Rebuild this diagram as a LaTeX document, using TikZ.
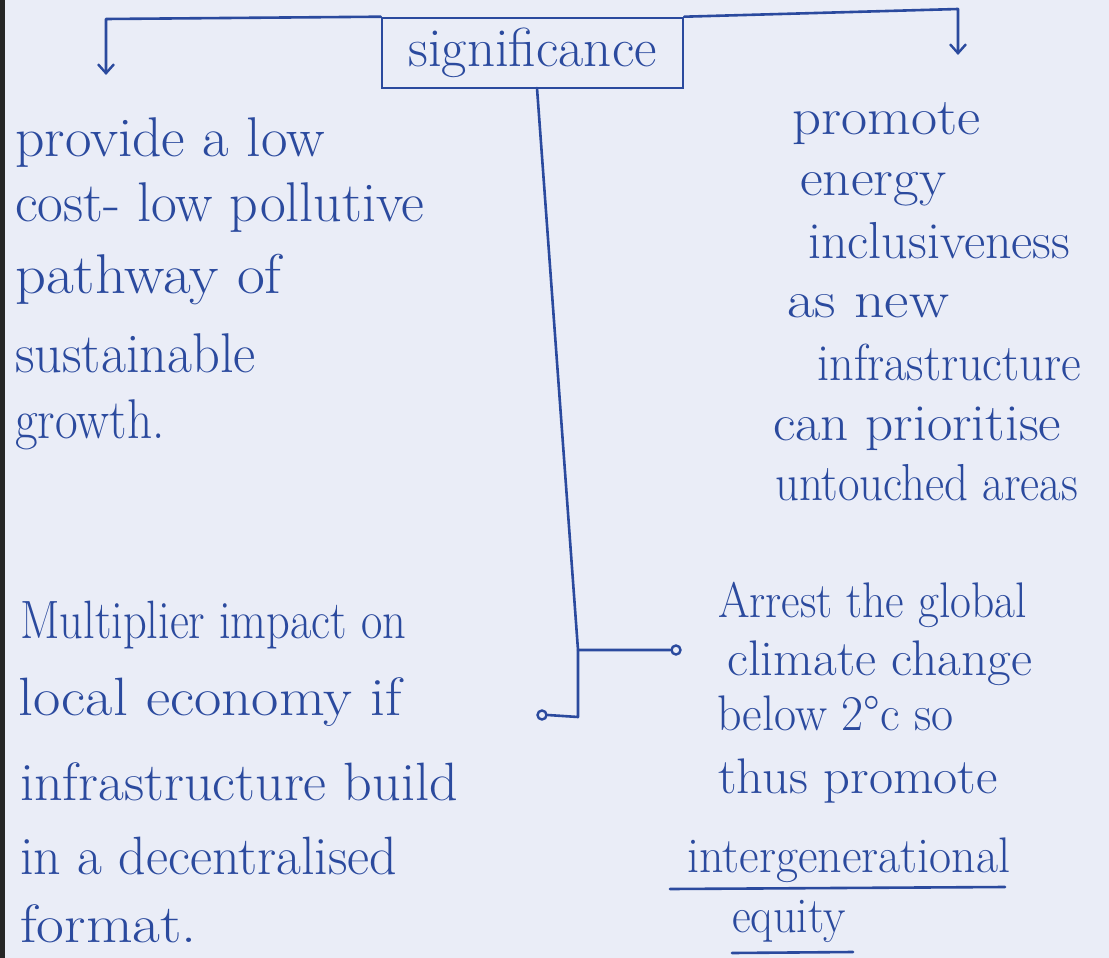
\documentclass[tikz,border=0pt]{standalone}
\usepackage{fontspec}
\usepackage{graphicx}
\usetikzlibrary{arrows.meta}
\definecolor{ink}{HTML}{2B4A9E}
\definecolor{paper}{HTML}{EAEDF7}
\newcommand{\sx}[2]{\scalebox{#1}[1]{#2}}
\begin{document}
\begin{tikzpicture}[x=1pt,y=-1pt,
  inkline/.style={draw=ink,line width=2.6pt,line cap=round,line join=round},
  tip/.style={-{Straight Barb[length=9pt,width=16pt,line width=2.4pt]}},
  hand/.style={anchor=base west,inner sep=0pt,text=ink},
  lt/.style={hand,font=\fontsize{56}{60}\selectfont},
  rt/.style={hand,font=\fontsize{52}{60}\selectfont},
  lb/.style={hand,font=\fontsize{54}{60}\selectfont},
  rb/.style={hand,font=\fontsize{50}{60}\selectfont},
  loopend/.style={draw=ink,line width=2.4pt,circle,minimum size=9pt,inner sep=0pt},
]
\fill[paper] (0,0) rectangle (1109,958);
\useasboundingbox (0,0) rectangle (1109,958);
\fill[black!85] (0,0) rectangle (5,958);

% title box
\node[draw=ink,line width=2.6pt,minimum width=301pt,minimum height=70pt,text=ink,
      font=\fontsize{55}{58}\selectfont,inner sep=0pt] (sig) at (532.5,53) {significance};

% top connectors
\coordinate (tl) at (106,19);
\coordinate (la) at (106,75);
\coordinate (tr) at (958,9);
\coordinate (ra) at (958,55);
\draw[inkline,tip] (sig.north west) -- (tl) -- (la);
\draw[inkline,tip] (sig.north east) -- (tr) -- (ra);

% vertical spine and branches
\coordinate (vtop) at (537,88);
\coordinate (vmid) at (578,650);
\coordinate (vbot) at (578,717);
\node[loopend] (e1) at (676,650) {};
\node[loopend] (e2) at (542,715) {};
\draw[inkline] (vtop) -- (vmid) -- (e1.west);
\draw[inkline] (vmid) -- (vbot) -- (e2.east);

% left top block
\node[lt] (a1) at (15,156) {\sx{1.03}{provide a low}};
\node[lt] (a2) at (15,221) {cost- low pollutive};
\node[lt] (a3) at (15,293) {\sx{1.08}{pathway of}};
\node[lt] (a4) at (15,372) {\sx{0.97}{sustainable}};
\node[lt] (a5) at (15,438) {\sx{0.88}{growth.}};

% right top block
\node[rt] (b1) at (792,135) {\sx{1.09}{promote}};
\node[rt] (b2) at (800,195) {\sx{1.07}{energy}};
\node[rt] (b3) at (808,258) {inclusiveness};
\node[rt] (b4) at (787,317) {\sx{1.15}{as new}};
\node[rt] (b5) at (817,380) {\sx{0.93}{infrastructure}};
\node[rt] (b6) at (773,440) {\sx{1.06}{can prioritise}};
\node[rt] (b7) at (775,500) {\sx{0.9}{untouched areas}};

% left bottom block
\node[lb] (c1) at (20,638) {\sx{0.86}{Multiplier impact on}};
\node[lb] (c2) at (18,715) {\sx{1.1}{local economy if}};
\node[lb] (c3) at (20,800) {\sx{1.04}{infrastructure build}};
\node[lb] (c4) at (20,874) {in a decentralised};
\node[lb] (c5) at (20,942) {\sx{1.12}{format.}};

% right bottom block
\node[rb] (d1) at (718,617) {\sx{0.91}{Arrest the global}};
\node[rb] (d2) at (727,675) {\sx{1.03}{climate change}};
\node[rb] (d3) at (717,730) {\sx{0.96}{below 2°c so}};
\node[rb] (d4) at (718,793) {\sx{1.05}{thus promote}};
\node[rb] (d5) at (687,872) {\sx{0.96}{intergenerational}};
\node[rb] (d6) at (732,932) {\sx{0.92}{equity}};

% underlines
\coordinate (u1a) at (670,889);
\coordinate (u1b) at (1005,887);
\coordinate (u2a) at (732,953);
\coordinate (u2b) at (853,952);
\draw[inkline] (u1a) -- (u1b);
\draw[inkline] (u2a) -- (u2b);
\end{tikzpicture}
\end{document}
